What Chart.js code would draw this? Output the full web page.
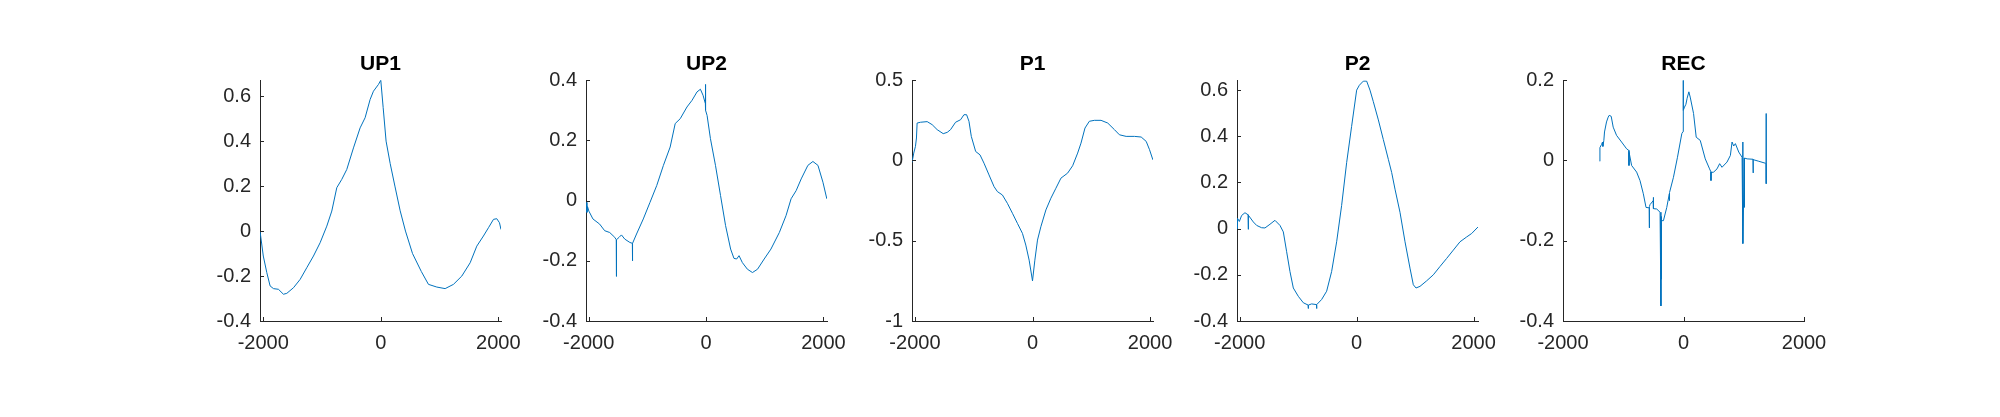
<!DOCTYPE html>
<html>
<head>
<meta charset="utf-8">
<script src="https://cdn.jsdelivr.net/npm/chart.js@4.4.1/dist/chart.umd.min.js"></script>
<style>
  html, body { margin: 0; background: #fff; }
  #fig { position: relative; width: 2000px; height: 417px; overflow: hidden; background: #fff; }
  #fig canvas { position: absolute; top: 0; }
</style>
</head>
<body>
<div id="fig"></div>
<script>
// ---------- data ----------
const TITLES = ["UP1", "UP2", "P1", "P2", "REC"];
const X_TICKS = [-2000, 0, 2000];

const up1X = [-2056, -2000, -1940, -1884, -1827, -1742, -1657, -1600, -1486, -1373, -1260, -1146, -1033, -919, -834, -749, -664, -579, -465, -352, -267, -182, -125, -40, 0, 40, 90, 160, 240, 330, 420, 540, 690, 811, 953, 1095, 1237, 1379, 1521, 1634, 1747, 1833, 1918, 1974, 2020, 2046];
const up1Y = [0, -0.111, -0.185, -0.244, -0.256, -0.259, -0.281, -0.277, -0.252, -0.215, -0.163, -0.111, -0.052, 0.022, 0.089, 0.193, 0.230, 0.274, 0.370, 0.459, 0.504, 0.585, 0.622, 0.652, 0.671, 0.55, 0.40, 0.30, 0.20, 0.09, 0.0, -0.10, -0.18, -0.237, -0.249, -0.256, -0.237, -0.200, -0.141, -0.067, -0.022, 0.015, 0.052, 0.055, 0.037, 0.007];

const up2X = [-2043, -2030, -2020, -1997, -1928, -1814, -1728, -1642, -1556, -1530, -1528, -1526, -1482, -1442, -1385, -1299, -1256, -1254, -1252, -1185, -1070, -956, -841, -727, -612, -526, -441, -326, -240, -155, -97, -52, -12, -10, -8, 17, 74, 160, 246, 332, 418, 475, 521, 561, 618, 704, 790, 876, 990, 1105, 1248, 1362, 1448, 1534, 1620, 1734, 1820, 1906, 1991, 2057];
const up2Y = [-0.006, -0.039, -0.02, -0.035, -0.061, -0.078, -0.1, -0.106, -0.122, -0.13, -0.252, -0.13, -0.122, -0.114, -0.128, -0.139, -0.142, -0.2, -0.142, -0.111, -0.061, -0.006, 0.05, 0.117, 0.178, 0.256, 0.272, 0.311, 0.333, 0.361, 0.37, 0.35, 0.322, 0.386, 0.3, 0.283, 0.206, 0.117, 0.017, -0.083, -0.161, -0.192, -0.194, -0.183, -0.206, -0.228, -0.239, -0.228, -0.194, -0.161, -0.106, -0.05, 0.006, 0.033, 0.072, 0.117, 0.13, 0.117, 0.061, 0.006];

const p1X = [-2050, -2020, -1991, -1974, -1963, -1906, -1792, -1707, -1622, -1519, -1451, -1394, -1309, -1223, -1166, -1121, -1081, -1041, -967, -893, -825, -740, -654, -597, -512, -427, -341, -256, -171, -114, -57, 0, 40, 85, 142, 228, 313, 398, 484, 597, 683, 768, 825, 893, 967, 1052, 1166, 1280, 1394, 1479, 1593, 1735, 1849, 1934, 1991, 2048];
const p1Y = [-0.012, 0.046, 0.088, 0.14, 0.233, 0.238, 0.242, 0.223, 0.192, 0.167, 0.175, 0.192, 0.238, 0.254, 0.285, 0.285, 0.244, 0.15, 0.056, 0.035, -0.017, -0.09, -0.163, -0.194, -0.215, -0.267, -0.329, -0.392, -0.454, -0.527, -0.621, -0.75, -0.621, -0.496, -0.413, -0.308, -0.235, -0.173, -0.11, -0.079, -0.033, 0.046, 0.108, 0.202, 0.244, 0.25, 0.25, 0.233, 0.192, 0.16, 0.15, 0.15, 0.146, 0.119, 0.067, 0.004];

const p2X = [-2046, -2040, -2035, -2006, -1967, -1910, -1856, -1853, -1850, -1767, -1710, -1625, -1568, -1482, -1397, -1311, -1254, -1197, -1140, -1083, -998, -912, -829, -827, -825, -770, -686, -684, -682, -599, -513, -428, -342, -257, -171, -86, 0, 46, 114, 171, 228, 285, 371, 456, 542, 599, 656, 741, 827, 912, 969, 1015, 1083, 1197, 1311, 1425, 1539, 1653, 1767, 1881, 1967, 2074];
const p2Y = [0.04, 0.0, 0.045, 0.031, 0.057, 0.069, 0.06, -0.003, 0.058, 0.029, 0.014, 0.004, 0.003, 0.019, 0.036, 0.014, -0.014, -0.1, -0.186, -0.257, -0.293, -0.321, -0.331, -0.346, -0.331, -0.326, -0.329, -0.346, -0.329, -0.307, -0.271, -0.186, -0.057, 0.1, 0.286, 0.443, 0.6, 0.621, 0.639, 0.639, 0.6, 0.55, 0.471, 0.386, 0.3, 0.243, 0.171, 0.071, -0.057, -0.171, -0.243, -0.257, -0.25, -0.226, -0.2, -0.164, -0.129, -0.093, -0.057, -0.036, -0.021, 0.007];

const recX = [-1389, -1387, -1360, -1344, -1338, -1322, -1311, -1278, -1250, -1233, -1200, -1167, -1111, -1028, -944, -907, -905, -903, -861, -778, -722, -667, -622, -569, -567, -565, -556, -502, -500, -498, -444, -389, -376, -374, -372, -370, -368, -366, -333, -278, -235, -233, -231, -167, -100, -28, -8, -5, -2, 17, 40, 60, 89, 111, 167, 211, 278, 361, 433, 454, 456, 458, 500, 556, 600, 639, 722, 778, 806, 833, 861, 917, 972, 983, 985, 987, 1009, 1011, 1013, 1056, 1154, 1156, 1158, 1250, 1361, 1371, 1372, 1373];
const recY = [-0.002, 0.032, 0.04, 0.046, 0.035, 0.05, 0.071, 0.096, 0.108, 0.1125, 0.11, 0.083, 0.0625, 0.046, 0.029, 0.025, -0.0125, 0.02, -0.0125, -0.029, -0.05, -0.083, -0.117, -0.118, -0.168, -0.115, -0.11, -0.1, -0.092, -0.12, -0.121, -0.129, -0.133, -0.3625, -0.14, -0.296, -0.145, -0.15, -0.15, -0.117, -0.083, -0.1, -0.08, -0.042, 0.008, 0.067, 0.072, 0.2, 0.125, 0.133, 0.14, 0.155, 0.171, 0.158, 0.117, 0.058, 0.05, 0.004, -0.021, -0.028, -0.05, -0.03, -0.029, -0.021, -0.008, -0.017, -0.004, 0.0125, 0.046, 0.036, 0.042, 0.021, 0.008, 0.008, 0.046, -0.207, 0.006, -0.117, 0.006, 0.004, 0.003, -0.031, 0.002, -0.002, -0.007, -0.008, 0.117, -0.058];

const SERIES_X = [up1X, up2X, p1X, p2X, recX];
const SERIES_Y = [up1Y, up2Y, p1Y, p2Y, recY];
const X_MIN = [-2056, -2046, -2050, -2046, -2000];
const X_MAX = [2046, 2060, 2050, 2075, 2000];
const Y_MIN = [-0.4, -0.4, -1, -0.4, -0.4];
const Y_MAX = [0.671, 0.4, 0.5, 0.643, 0.2];
const Y_TICKS = [
  [-0.4, -0.2, 0, 0.2, 0.4, 0.6],
  [-0.4, -0.2, 0, 0.2, 0.4],
  [-1, -0.5, 0, 0.5],
  [-0.4, -0.2, 0, 0.2, 0.4, 0.6],
  [-0.4, -0.2, 0, 0.2],
];

// ---------- layout / style ----------
const AXES_LEFT = [260, 586, 912, 1237, 1563];
const PLOT_W = 241;
const SIDE = 55;          // room for y labels on the left, x label overflow on the right
const H = 417;
const LINE = "#0072BD";
const AXIS = "#262626";
const FONT = "'Liberation Sans', Arial, Helvetica, sans-serif";
const TICK = 4;

Chart.defaults.font.family = FONT;
Chart.defaults.color = AXIS;

// MATLAB-style ticks pointing into the axes
const innerTicks = {
  id: "innerTicks",
  afterDraw(chart) {
    const { ctx, chartArea: a, scales: { x, y } } = chart;
    ctx.save();
    ctx.strokeStyle = AXIS;
    ctx.lineWidth = 1;
    ctx.beginPath();
    for (const t of x.ticks) {
      const px = Math.round(x.getPixelForValue(t.value)) + 0.5;
      ctx.moveTo(px, a.bottom);
      ctx.lineTo(px, a.bottom - TICK);
    }
    for (const t of y.ticks) {
      const py = Math.round(y.getPixelForValue(t.value)) + 0.5;
      ctx.moveTo(a.left, py);
      ctx.lineTo(a.left + TICK, py);
    }
    ctx.stroke();
    ctx.restore();
  },
};

const fig = document.getElementById("fig");

TITLES.forEach((title, i) => {
  const cv = document.createElement("canvas");
  const w = PLOT_W + 2 * SIDE;
  cv.width = w;
  cv.height = H;
  cv.style.left = (AXES_LEFT[i] - SIDE) + "px";
  cv.style.width = w + "px";
  cv.style.height = H + "px";
  fig.appendChild(cv);

  const xs = SERIES_X[i];
  const ys = SERIES_Y[i];
  const yTicks = Y_TICKS[i];

  new Chart(cv, {
    type: "line",
    data: {
      datasets: [{
        data: xs.map((v, k) => ({ x: v, y: ys[k] })),
        borderColor: LINE,
        borderWidth: 1,
        pointRadius: 0,
        tension: 0,
        fill: false,
      }],
    },
    options: {
      responsive: false,
      animation: false,
      events: [],
      layout: { padding: { left: 0, right: SIDE, top: 0, bottom: 0 } },
      plugins: {
        legend: { display: false },
        tooltip: { enabled: false },
        title: {
          display: true,
          fullSize: false,   // centre over the axes, not the canvas
          text: title,
          color: "#000",
          font: { size: 21, weight: "bold", family: FONT },
          padding: { top: 52, bottom: 3 },
        },
      },
      scales: {
        x: {
          type: "linear",
          min: X_MIN[i],
          max: X_MAX[i],
          grid: { display: false, drawTicks: false },
          border: { display: true, color: AXIS, width: 1 },
          ticks: { font: { size: 20 }, color: AXIS, padding: 10, maxRotation: 0, callback: (v) => String(v) },
          afterBuildTicks: (s) => { s.ticks = X_TICKS.map((v) => ({ value: v })); },
          afterFit: (s) => { s.height = 96; },
        },
        y: {
          type: "linear",
          min: Y_MIN[i],
          max: Y_MAX[i],
          grid: { display: false, drawTicks: false },
          border: { display: true, color: AXIS, width: 1 },
          ticks: { font: { size: 20 }, color: AXIS, padding: 9, callback: (v) => String(+Number(v).toFixed(2)) },
          afterBuildTicks: (s) => { s.ticks = yTicks.map((v) => ({ value: v })); },
          afterFit: (s) => { s.width = SIDE; },
        },
      },
    },
    plugins: [innerTicks],
  });
});
</script>
</body>
</html>
